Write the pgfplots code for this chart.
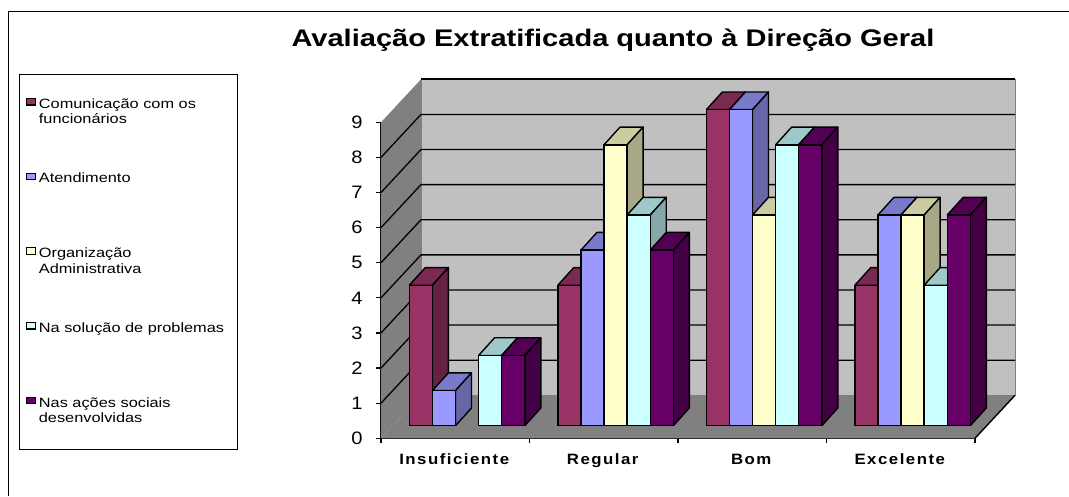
\documentclass[border=0pt]{standalone}
\usepackage{fontspec}
\setmainfont[FakeStretch=1.12]{Liberation Sans}
\newfontfamily\titlefont[FakeStretch=1.21]{Liberation Sans}
\newfontfamily\catfont[FakeStretch=1.12,LetterSpace=10]{Liberation Sans}
\newfontfamily\legfont[FakeStretch=1.21]{Liberation Sans}
\usepackage{pgfplots}
\pgfplotsset{compat=1.18}
\definecolor{aF}{HTML}{993366}\definecolor{aS}{HTML}{652244}\definecolor{aT}{HTML}{7A2952}
\definecolor{bF}{HTML}{9999FF}\definecolor{bS}{HTML}{6666A8}\definecolor{bT}{HTML}{7A7ACC}
\definecolor{cF}{HTML}{FFFFCC}\definecolor{cS}{HTML}{A8A887}\definecolor{cT}{HTML}{CCCCA3}
\definecolor{dF}{HTML}{CCFFFF}\definecolor{dS}{HTML}{87A8A8}\definecolor{dT}{HTML}{9FC8C8}
\definecolor{eF}{HTML}{660066}\definecolor{eS}{HTML}{440044}\definecolor{eT}{HTML}{520052}
\definecolor{wallB}{HTML}{C0C0C0}\definecolor{wallL}{HTML}{808080}
% group, index in group, value, series letter
\newcommand\threebar[4]{%
  \pgfmathsetmacro\xL{#1+0.1906+0.15556*#2}%
  \pgfmathsetmacro\xR{\xL+0.15556}%
  \pgfmathsetmacro\xC{\xL+0.07778}%
  \pgfmathsetmacro\xLd{\xL+0.1077}%
  \pgfmathsetmacro\xRd{\xR+0.1077}%
  \pgfmathsetmacro\yT{#3+0.504}%
  \addplot[forget plot,fill=#4T,draw=black,line width=1.4pt,line join=round] coordinates {(\xL,#3) (\xR,#3) (\xRd,\yT) (\xLd,\yT) (\xL,#3)};
  \addplot[forget plot,fill=#4S,draw=black,line width=1.4pt,line join=round] coordinates {(\xR,0) (\xRd,0.504) (\xRd,\yT) (\xR,#3) (\xR,0)};
  \addplot[forget plot,ybar,bar width=23.1pt,bar shift=0pt,fill=#4F,draw=black,line width=1.4pt] coordinates {(\xC,#3)};
}
\begin{document}
\begin{tikzpicture}
\path[use as bounding box] (0pt,0pt) rectangle (1069pt,496pt);
\draw[black,line width=1.3pt] (8.5pt,0pt) -- (8.5pt,484.5pt) -- (1069pt,484.5pt);
\draw[black,line width=0.9pt] (19pt,47pt) rectangle (237pt,422pt);
\begin{axis}[
  at={(381pt,57.7pt)}, anchor=south west,
  scale only axis, width=594pt, height=316pt,
  xmin=0, xmax=4, ymin=-0.359, ymax=8.641,
  clip=false,
  axis x line*=bottom, axis y line*=left,
  axis line style={-,line width=2pt},
  xtick={0,1,2,3,4},
  xticklabels={},
  extra x ticks={0.5,1.5,2.5,3.5},
  extra x tick labels={Insuficiente,Regular,Bom,Excelente},
  extra x tick style={major tick length=0pt,
    xticklabel style={font=\fontsize{15}{17}\selectfont\catfont\bfseries,yshift=-12pt,xshift=-1pt}},
  major tick length=5pt,
  tick align=outside,
  ytick={-0.359,0.641,1.641,2.641,3.641,4.641,5.641,6.641,7.641,8.641},
  yticklabels={0,1,2,3,4,5,6,7,8,9},
  /pgf/number format/assume math mode=true,
  yticklabel style={font=\fontsize{18}{20}\selectfont,xshift=-10pt,yshift=0pt},
  every tick/.style={black,line width=1.2pt},
  title={\titlefont\bfseries Avalia\c{c}\~ao Extratificada quanto \`a Dire\c{c}\~ao Geral},
  title style={at={(0.3906,1.2415)},anchor=center,font=\fontsize{24}{26}\selectfont},
  legend style={at={(-0.6094,1.1528)},anchor=north west,draw=none,fill=none,
    font=\fontsize{13.5}{15}\selectfont\legfont,row sep=60.2pt,inner xsep=7pt,inner ysep=23pt,
    legend cell align=left},
]
% walls and floor
\addplot[forget plot,fill=wallB,draw=wallL,line width=0.8pt] coordinates {(0.2694,0.8657) (4.2694,0.8657) (4.2694,9.866) (0.2694,9.866) (0.2694,0.8657)};
\addplot[forget plot,fill=wallL,draw=none] coordinates {(0,-0.359) (0.2694,0.8657) (0.2694,9.866) (0,8.641) (0,-0.359)};
\addplot[forget plot,fill=wallL,draw=none] coordinates {(0,-0.359) (4,-0.359) (4.2694,0.8657) (0.2694,0.8657) (0,-0.359)};
\addplot[forget plot,black,line width=1.4pt] coordinates {(4,-0.359) (4.2694,0.8657)};
% gridlines
\addplot[forget plot,black,line width=1.3pt] coordinates {(0,0.641) (0.2694,1.8657) (4.2694,1.8657)};
\addplot[forget plot,black,line width=1.3pt] coordinates {(0,1.641) (0.2694,2.8657) (4.2694,2.8657)};
\addplot[forget plot,black,line width=1.3pt] coordinates {(0,2.641) (0.2694,3.8657) (4.2694,3.8657)};
\addplot[forget plot,black,line width=1.3pt] coordinates {(0,3.641) (0.2694,4.8657) (4.2694,4.8657)};
\addplot[forget plot,black,line width=1.3pt] coordinates {(0,4.641) (0.2694,5.8657) (4.2694,5.8657)};
\addplot[forget plot,black,line width=1.3pt] coordinates {(0,5.641) (0.2694,6.8657) (4.2694,6.8657)};
\addplot[forget plot,black,line width=1.3pt] coordinates {(0,6.641) (0.2694,7.8657) (4.2694,7.8657)};
\addplot[forget plot,black,line width=1.3pt] coordinates {(0,7.641) (0.2694,8.8657) (4.2694,8.8657)};
\addplot[forget plot,black,line width=1.6pt] coordinates {(0.2694,9.866) (4.2694,9.866)};
% Insuficiente
\threebar{0}{0}{4}{a}\threebar{0}{1}{1}{b}\threebar{0}{3}{2}{d}\threebar{0}{4}{2}{e}
% Regular
\threebar{1}{0}{4}{a}\threebar{1}{1}{5}{b}\threebar{1}{2}{8}{c}\threebar{1}{3}{6}{d}\threebar{1}{4}{5}{e}
% Bom
\threebar{2}{0}{9}{a}\threebar{2}{1}{9}{b}\threebar{2}{2}{6}{c}\threebar{2}{3}{8}{d}\threebar{2}{4}{8}{e}
% Excelente
\threebar{3}{0}{4}{a}\threebar{3}{1}{6}{b}\threebar{3}{2}{6}{c}\threebar{3}{3}{4}{d}\threebar{3}{4}{6}{e}
% legend
\addlegendimage{legend image code/.code={\draw[fill=aF,draw=black,line width=1.2pt] (0pt,-0.5pt) rectangle (8.5pt,6pt);}}
\addlegendentry{\rule{0pt}{9pt}\hspace*{1pt}\smash{\parbox[t]{189pt}{\setlength{\baselineskip}{15.5pt}Comunica\c{c}\~ao com os\\funcion\'arios}}}
\addlegendimage{legend image code/.code={\draw[fill=bF,draw=black,line width=1.2pt] (0pt,-0.5pt) rectangle (8.5pt,6pt);}}
\addlegendentry{\rule{0pt}{9pt}\hspace*{1pt}\smash{\parbox[t]{189pt}{Atendimento}}}
\addlegendimage{legend image code/.code={\draw[fill=cF,draw=black,line width=1.2pt] (0pt,-0.5pt) rectangle (8.5pt,6pt);}}
\addlegendentry{\rule{0pt}{9pt}\hspace*{1pt}\smash{\parbox[t]{189pt}{\setlength{\baselineskip}{15.5pt}Organiza\c{c}\~ao\\Administrativa}}}
\addlegendimage{legend image code/.code={\draw[fill=dF,draw=black,line width=1.2pt] (0pt,-0.5pt) rectangle (8.5pt,6pt);}}
\addlegendentry{\rule{0pt}{9pt}\hspace*{1pt}\smash{\parbox[t]{189pt}{Na solu\c{c}\~ao de problemas}}}
\addlegendimage{legend image code/.code={\draw[fill=eF,draw=black,line width=1.2pt] (0pt,-0.5pt) rectangle (8.5pt,6pt);}}
\addlegendentry{\rule{0pt}{9pt}\hspace*{1pt}\smash{\parbox[t]{189pt}{\setlength{\baselineskip}{15.5pt}Nas a\c{c}\~oes sociais\\desenvolvidas}}}
\end{axis}
\end{tikzpicture}
\end{document}
